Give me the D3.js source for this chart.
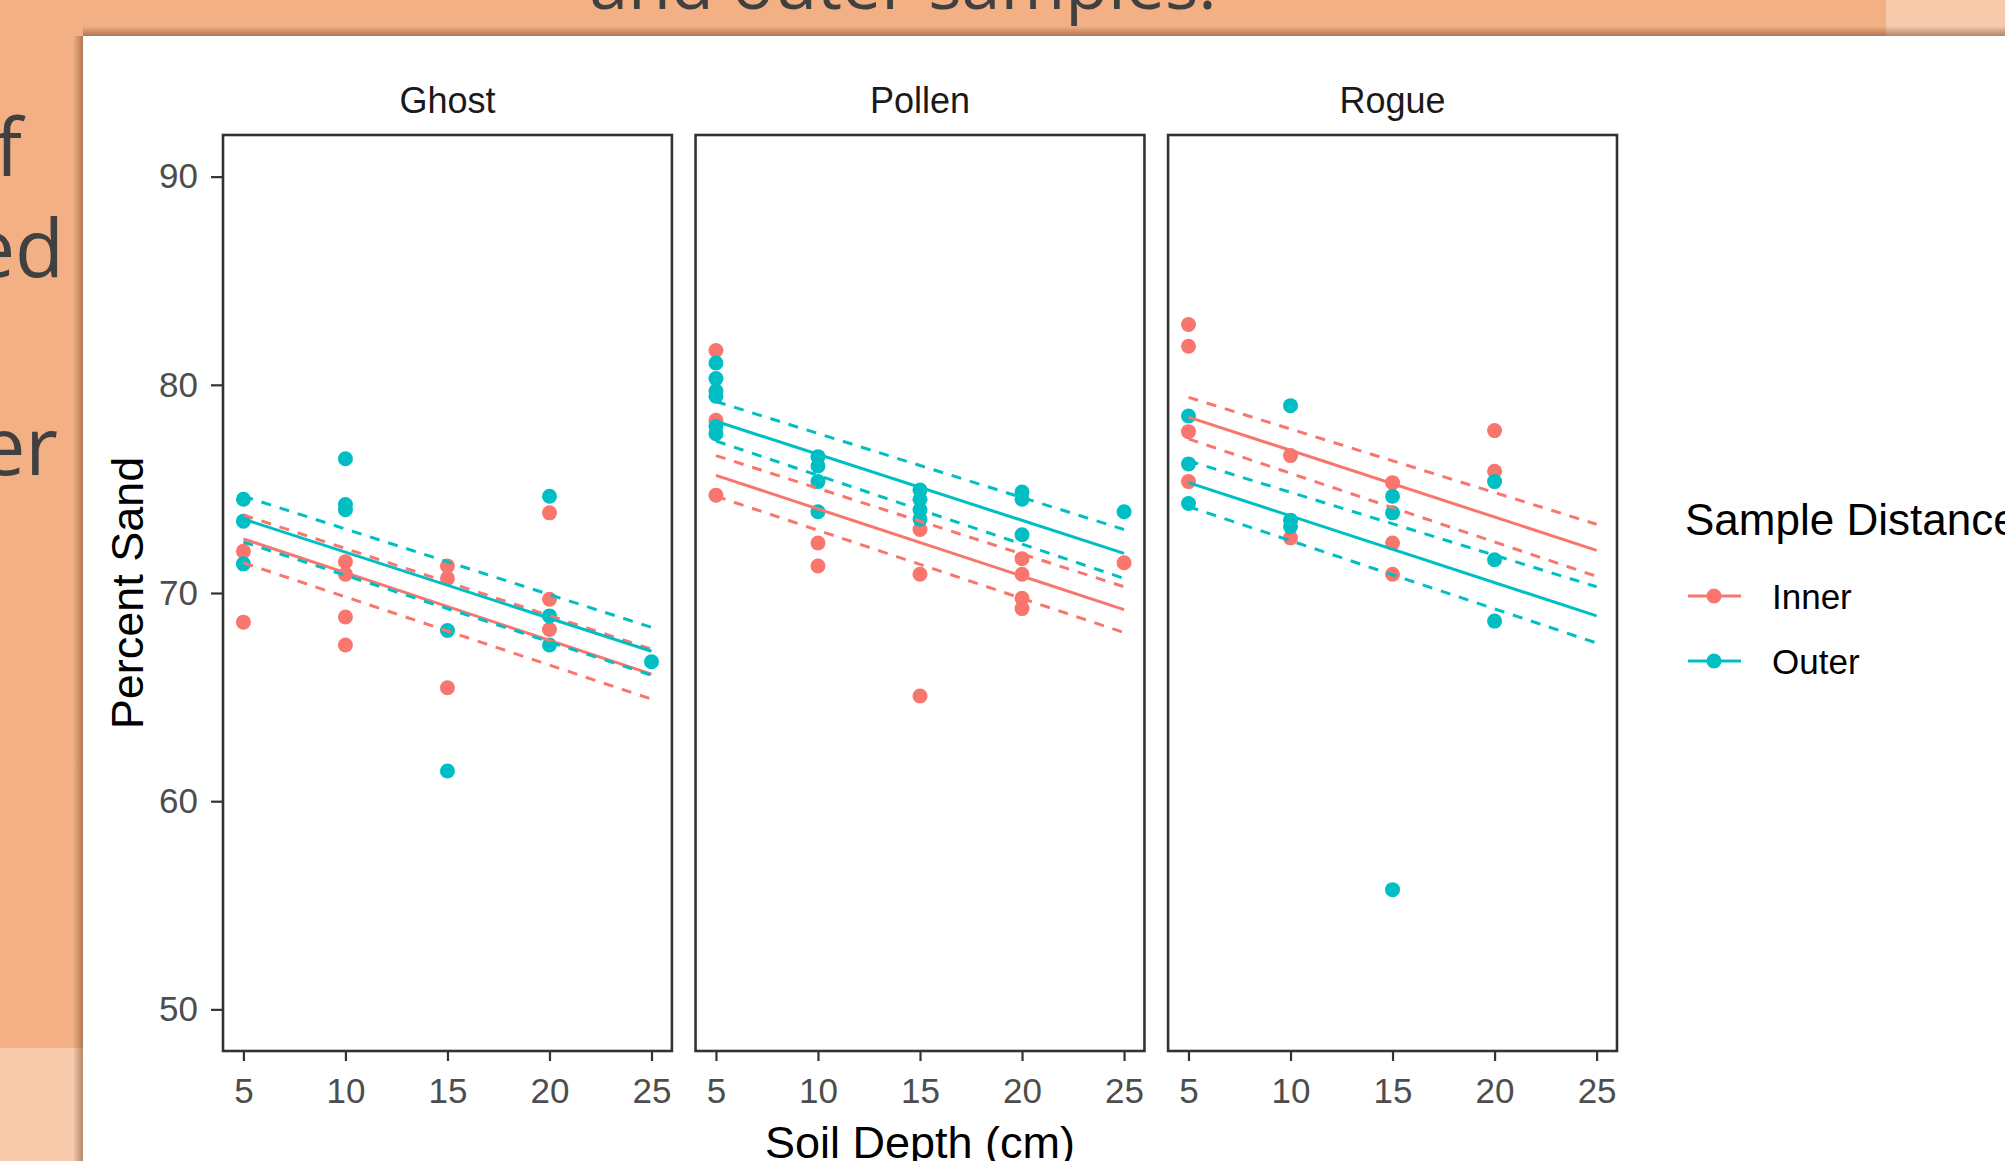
<!DOCTYPE html>
<html>
<head>
<meta charset="utf-8">
<script src="https://cdn.jsdelivr.net/npm/d3@7/dist/d3.min.js"></script>
<style>
  body { margin: 0; overflow: hidden; background: #fff; }
  text { font-family: "Liberation Sans", Arial, sans-serif; }
</style>
</head>
<body>
<script>
// facets, groups, ticks
const sites = ['Ghost', 'Pollen', 'Rogue']
const groups = ['Inner', 'Outer']
const depthTicks = [5, 10, 15, 20, 25]
const sandTicks = [50, 60, 70, 80, 90]
const lineEnds = [5, 25]

// points: [soil depth, percent sand]
const ghostInner = [[5, 72.0], [5, 68.6], [10, 71.5], [10, 70.9], [10, 68.85], [10, 67.5],
    [15, 71.3], [15, 70.7], [15, 65.45], [20, 73.85], [20, 69.7], [20, 68.25]]
const ghostOuter = [[5, 74.5], [5, 73.45], [5, 71.4], [10, 76.45], [10, 74.25], [10, 74.0],
    [15, 68.2], [15, 61.45], [20, 74.65], [20, 68.9], [20, 67.5], [25, 66.7]]
const pollenInner = [[5, 81.65], [5, 78.3], [5, 74.7], [10, 72.4], [10, 71.3], [15, 73.05],
    [15, 70.9], [15, 65.05], [20, 71.65], [20, 70.9], [20, 69.75], [20, 69.25], [25, 71.45]]
const pollenOuter = [[5, 81.05], [5, 80.3], [5, 79.7], [5, 79.45], [5, 78.0], [5, 77.65],
    [10, 76.55], [10, 76.1], [10, 75.35], [10, 73.9], [15, 74.95], [15, 74.5], [15, 74.0],
    [15, 73.55], [20, 74.85], [20, 74.5], [20, 72.8], [25, 73.9]]
const rogueInner = [[5, 82.9], [5, 81.85], [5, 77.75], [5, 75.35], [10, 76.6], [10, 72.65],
    [15, 75.3], [15, 72.4], [15, 70.9], [20, 77.8], [20, 75.85]]
const rogueOuter = [[5, 78.5], [5, 76.2], [5, 74.3], [10, 79.0], [10, 73.5], [10, 73.2],
    [15, 74.65], [15, 73.85], [15, 55.75], [20, 75.35], [20, 71.6], [20, 68.65]]

// fitted lines and bounds at depth 5 and 25, one pair per site
const innerFit = [[72.6, 66.1], [75.65, 69.2], [78.45, 72.05]]
const innerLower = [[71.45, 64.9], [74.65, 68.1], [77.4, 70.8]]
const innerUpper = [[73.75, 67.3], [76.6, 70.3], [79.4, 73.3]]
const outerFit = [[73.55, 67.2], [78.25, 71.9], [75.3, 68.9]]
const outerLower = [[72.45, 66.05], [77.3, 70.7], [74.15, 67.6]]
const outerUpper = [[74.65, 68.35], [79.2, 73.05], [76.35, 70.3]]

const pointsBySite = [[ghostInner, ghostOuter], [pollenInner, pollenOuter], [rogueInner, rogueOuter]]
const linesByGroup = [[innerFit, innerLower, innerUpper], [outerFit, outerLower, outerUpper]]

var width = 2005,
    height = 1161
var svg = d3.select('body').append('svg')
    .attr('width', width)
    .attr('height', height)

// slide behind the pasted chart
svg.append('rect').attr('width', width).attr('height', height).attr('fill', '#F3B084')
svg.append('rect').attr('x', 1886).attr('y', 0).attr('width', width - 1886).attr('height', 36).attr('fill', '#F7CAAC')
svg.append('rect').attr('x', 0).attr('y', 1048).attr('width', 83).attr('height', height - 1048).attr('fill', '#F7CAAC')

svg.append('text').attr('x', 903).attr('y', 9)
    .attr('text-anchor', 'middle')
    .style('font-family', '"Open Sans", sans-serif').style('font-size', '70px')
    .attr('fill', '#404040')
    .text('and outer samples.')

var slideText = [['f', 22, 176], ['ed', 64, 277], ['er', 58, 475]]
svg.selectAll('.slide').data(slideText).enter().append('text')
    .attr('x', d => d[1]).attr('y', d => d[2])
    .attr('text-anchor', 'end')
    .style('font-family', '"Open Sans", sans-serif').style('font-size', '80px')
    .attr('fill', '#404040')
    .text(d => d[0])

// drop shadow of the pasted image
var defs = svg.append('defs')
var gTop = defs.append('linearGradient').attr('id', 'shTop').attr('x1', 0).attr('y1', 0).attr('x2', 0).attr('y2', 1)
gTop.append('stop').attr('offset', 0).attr('stop-color', '#5a3418').attr('stop-opacity', 0)
gTop.append('stop').attr('offset', 1).attr('stop-color', '#5a3418').attr('stop-opacity', 0.45)
var gLeft = defs.append('linearGradient').attr('id', 'shLeft').attr('x1', 0).attr('y1', 0).attr('x2', 1).attr('y2', 0)
gLeft.append('stop').attr('offset', 0).attr('stop-color', '#5a3418').attr('stop-opacity', 0)
gLeft.append('stop').attr('offset', 1).attr('stop-color', '#5a3418').attr('stop-opacity', 0.45)
svg.append('rect').attr('x', 83).attr('y', 26).attr('width', width - 83).attr('height', 10).attr('fill', 'url(#shTop)')
svg.append('rect').attr('x', 73).attr('y', 36).attr('width', 10).attr('height', height - 36).attr('fill', 'url(#shLeft)')

svg.append('rect').attr('x', 83).attr('y', 36).attr('width', width - 83).attr('height', height - 36).attr('fill', '#fff')

// chart
var colour = d3.scaleOrdinal().domain(groups).range(['#F8766D', '#00BFC4'])
var facet = d3.scaleBand().domain(sites).range([223, 1617]).paddingInner(0.05)
var y = d3.scaleLinear().domain([48, 92]).range([1051, 135])
var panelTop = y.range()[1], panelBottom = y.range()[0]

sites.forEach((site, i) => {
    var left = facet(site)
    var x = d3.scaleLinear().domain([4, 26]).range([left, left + facet.bandwidth()])
    var g = svg.append('g')

    g.append('text')
        .attr('x', left + facet.bandwidth() / 2).attr('y', 113)
        .attr('text-anchor', 'middle')
        .style('font-size', '36px').attr('fill', '#1A1A1A')
        .text(site)

    groups.forEach((grp, k) => {
        g.selectAll('.pt' + k).data(pointsBySite[i][k]).enter().append('circle')
            .attr('cx', d => x(d[0]))
            .attr('cy', d => y(d[1]))
            .attr('r', 7.5)
            .attr('fill', colour(grp))
    })

    groups.forEach((grp, k) => {
        var line = d3.line().x(d => x(d[0])).y(d => y(d[1]))
        linesByGroup[k].forEach((vals, j) => {
            g.append('path')
                .datum(lineEnds.map((d, e) => [d, vals[i][e]]))
                .attr('d', line)
                .attr('fill', 'none')
                .attr('stroke', colour(grp))
                .attr('stroke-width', 3)
                .attr('stroke-dasharray', j == 0 ? null : '10,9')
        })
    })

    var xAxis = g.append('g')
        .attr('transform', 'translate(0,' + panelBottom + ')')
        .call(d3.axisBottom(x).tickValues(depthTicks).tickSize(10).tickPadding(17))
    xAxis.select('.domain').remove()
    xAxis.selectAll('line').attr('stroke', '#333').attr('stroke-width', 2.2)
    xAxis.selectAll('text').style('font-size', '35px').attr('fill', '#4D4D4D')
        .style('font-family', '"Liberation Sans", Arial, sans-serif')

    if (i == 0) {
        var yAxis = g.append('g')
            .attr('transform', 'translate(' + left + ',0)')
            .call(d3.axisLeft(y).tickValues(sandTicks).tickSize(12).tickPadding(13))
        yAxis.select('.domain').remove()
        yAxis.selectAll('line').attr('stroke', '#333').attr('stroke-width', 2.2)
        yAxis.selectAll('text').style('font-size', '35px').attr('fill', '#4D4D4D')
            .style('font-family', '"Liberation Sans", Arial, sans-serif')
    }

    g.append('rect')
        .attr('x', left).attr('y', panelTop)
        .attr('width', facet.bandwidth()).attr('height', panelBottom - panelTop)
        .attr('fill', 'none').attr('stroke', '#333').attr('stroke-width', 2.6)
})

// axis titles
svg.append('text')
    .attr('x', (facet.range()[0] + facet.range()[1]) / 2).attr('y', 1158)
    .attr('text-anchor', 'middle')
    .style('font-size', '45px').attr('fill', '#000')
    .text('Soil Depth (cm)')
svg.append('text')
    .attr('transform', 'translate(143,' + (panelTop + panelBottom) / 2 + ') rotate(-90)')
    .attr('text-anchor', 'middle')
    .style('font-size', '45px').attr('fill', '#000')
    .text('Percent Sand')

// legend
var legend = svg.append('g')
legend.append('text').attr('x', 1685).attr('y', 535)
    .style('font-size', '44px').attr('fill', '#000')
    .text('Sample Distance')
groups.forEach((grp, k) => {
    var cy = 596 + k * 65
    legend.append('line').attr('x1', 1688).attr('x2', 1741).attr('y1', cy).attr('y2', cy)
        .attr('stroke', colour(grp)).attr('stroke-width', 3)
    legend.append('circle').attr('cx', 1714).attr('cy', cy).attr('r', 7.5).attr('fill', colour(grp))
    legend.append('text').attr('x', 1772).attr('y', cy + 12.5)
        .style('font-size', '35px').attr('fill', '#000')
        .text(grp)
})
</script>
</body>
</html>
